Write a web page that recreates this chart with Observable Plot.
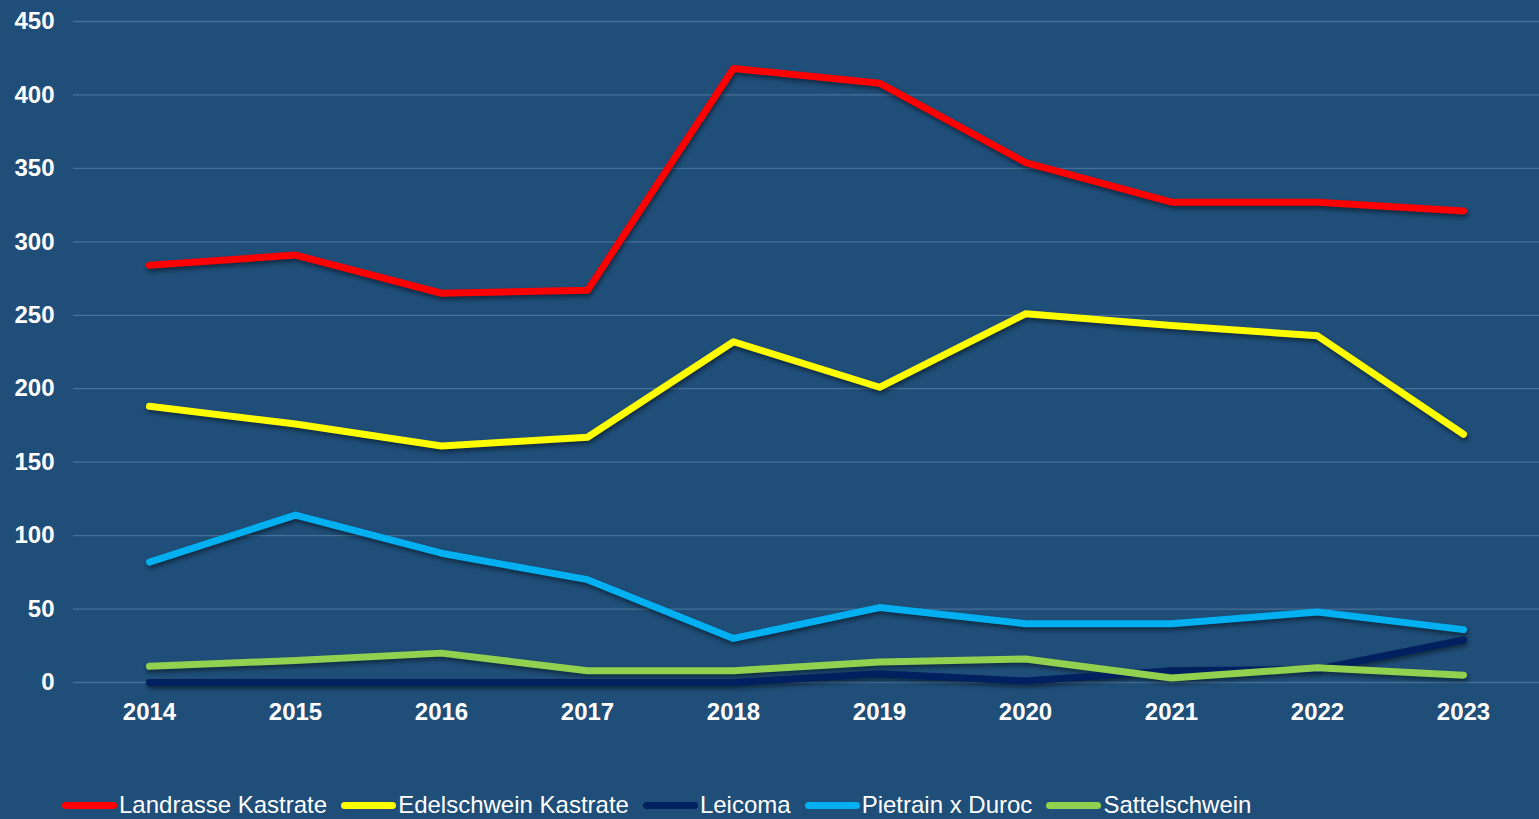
<!DOCTYPE html>
<html>
<head>
<meta charset="utf-8">
<script src="https://cdn.jsdelivr.net/npm/d3@7"></script>
<script src="https://cdn.jsdelivr.net/npm/@observablehq/plot@0.6"></script>
<style>
  html, body { margin: 0; padding: 0; background: #1F4E79; }
  #wrap { position: relative; width: 1539px; height: 819px; background: #1F4E79; overflow: hidden; }
  #chart svg { display: block; }
  #chart g[aria-label="line"] { filter: drop-shadow(1px 3px 2px rgba(0,0,0,0.45)); }
  #legend { position: absolute; left: 62px; top: 791px; display: flex; align-items: center;
    font-family: "Liberation Sans", Arial, sans-serif; font-size: 24px; color: #fff; white-space: nowrap; }
  .item { display: flex; align-items: center; margin-right: 14px; }
  .sw { width: 55px; height: 7px; border-radius: 4px; margin-right: 2px; }
</style>
</head>
<body>
<div id="wrap">
  <div id="chart"></div>
  <div id="legend"></div>
</div>
<script>
const years = ["2014","2015","2016","2017","2018","2019","2020","2021","2022","2023"];
const seriesNames = ["Landrasse Kastrate", "Edelschwein Kastrate", "Leicoma", "Pietrain x Duroc", "Sattelschwein"];
const seriesColors = ["#FF0000", "#FFFF00", "#002060", "#00B0F0", "#92D050"];
const landrasse   = [284, 291, 265, 267, 418, 408, 354, 327, 327, 321];
const edelschwein = [188, 176, 161, 167, 232, 201, 251, 243, 236, 169];
const leicoma     = [0, 0, 0, 0, 0, 6, 1, 8, 9, 29];
const pietrain    = [82, 114, 88, 70, 30, 51, 40, 40, 48, 36];
const sattel      = [11, 15, 20, 8, 8, 14, 16, 3, 10, 5];
const yTicks = [0, 50, 100, 150, 200, 250, 300, 350, 400, 450];

const allSeries = [landrasse, edelschwein, leicoma, pietrain, sattel];
const data = [];
allSeries.forEach((vals, i) => vals.forEach((v, j) => data.push({year: years[j], value: v, series: seriesNames[i]})));

const chart = Plot.plot({
  width: 1539,
  height: 740,
  marginLeft: 73,
  marginRight: 0,
  marginTop: 21,
  marginBottom: 58,
  style: {background: "#1F4E79", color: "#FFFFFF", fontFamily: "'Liberation Sans', Arial, sans-serif"},
  x: {type: "point", domain: years, padding: 0.5, label: null},
  y: {domain: [0, 450], label: null},
  color: {domain: seriesNames, range: seriesColors},
  marks: [
    Plot.gridY(yTicks, {stroke: "#5A80A8", strokeOpacity: 0.7, strokeWidth: 1.3}),
    Plot.axisY({ticks: yTicks, tickSize: 0, tickPadding: 19, fontSize: 24, fontWeight: "bold", fill: "#FFFFFF", label: null}),
    Plot.axisX({tickSize: 0, tickPadding: 20, fontSize: 24, fontWeight: "bold", fill: "#FFFFFF", label: null}),
    Plot.lineY(data, {x: "year", y: "value", z: "series", stroke: "series", strokeWidth: 7, strokeLinecap: "round", strokeLinejoin: "round"})
  ]
});
document.getElementById("chart").appendChild(chart);

const legend = document.getElementById("legend");
seriesNames.forEach((name, i) => {
  const it = document.createElement("div");
  it.className = "item";
  const sw = document.createElement("div");
  sw.className = "sw";
  sw.style.background = seriesColors[i];
  const t = document.createElement("span");
  t.textContent = name;
  it.appendChild(sw);
  it.appendChild(t);
  legend.appendChild(it);
});
</script>
</body>
</html>
